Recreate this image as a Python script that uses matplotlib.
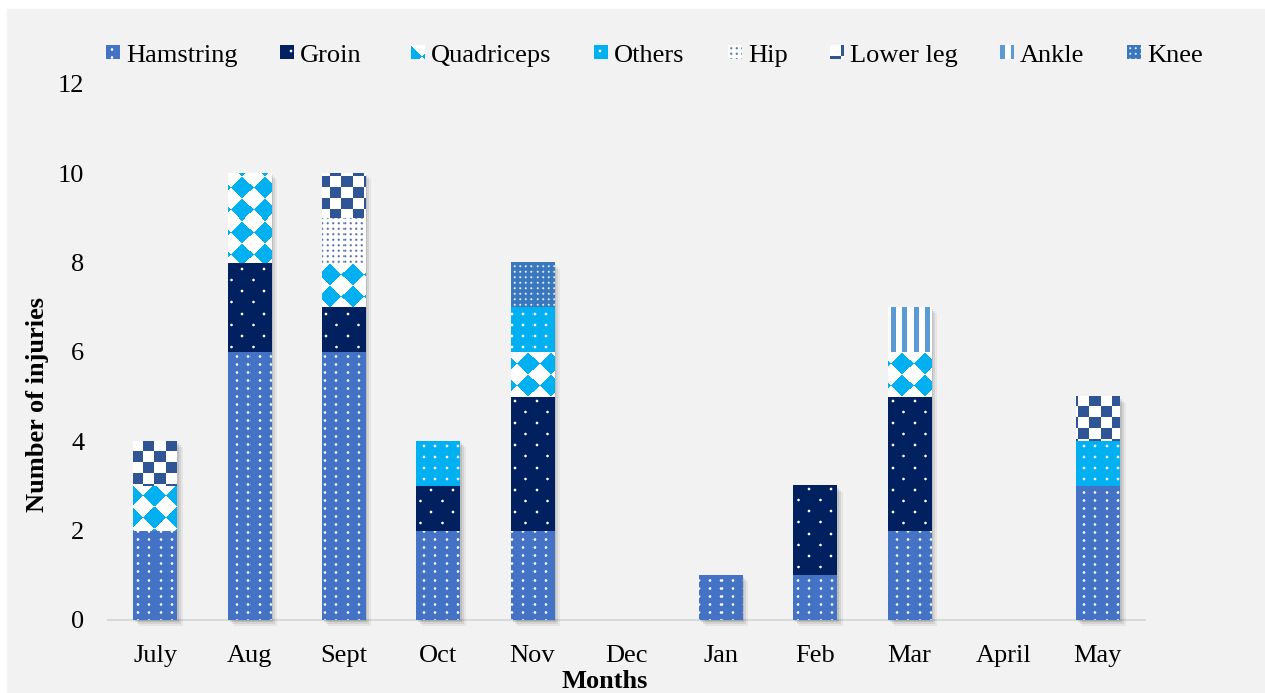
import numpy as np
import matplotlib.pyplot as plt
from matplotlib.patches import Rectangle

plt.rcParams['font.family'] = ['Liberation Serif', 'DejaVu Serif']

# data
months = ['July', 'Aug', 'Sept', 'Oct', 'Nov', 'Dec', 'Jan', 'Feb', 'Mar', 'April', 'May']
hamstring  = [2, 6, 6, 2, 2, 0, 1, 1, 2, 0, 3]
groin      = [0, 2, 1, 1, 3, 0, 0, 2, 3, 0, 0]
quadriceps = [1, 2, 1, 0, 1, 0, 0, 0, 1, 0, 0]
others     = [0, 0, 0, 1, 1, 0, 0, 0, 0, 0, 1]
hip        = [0, 0, 1, 0, 0, 0, 0, 0, 0, 0, 0]
lower_leg  = [1, 0, 1, 0, 0, 0, 0, 0, 0, 0, 1]
ankle      = [0, 0, 0, 0, 0, 0, 0, 0, 1, 0, 0]
knee       = [0, 0, 0, 0, 1, 0, 0, 0, 0, 0, 0]

names = ['Hamstring', 'Groin', 'Quadriceps', 'Others', 'Hip', 'Lower leg', 'Ankle', 'Knee']
series = [hamstring, groin, quadriceps, others, hip, lower_leg, ankle, knee]
base_colors = ['#4472C4', '#002060', '#00B0F0', '#00B0F0', '#2F5597', '#2F5597', '#5B9BD5', '#2E75B6']
legend_text_x = [126, 300, 431, 614, 748, 850, 1020, 1147]

W, H = 1265, 693


def rgb(c):
    c = c.lstrip('#')
    return np.array([int(c[i:i + 2], 16) for i in (0, 2, 4)]) / 255.


def dots(xx, yy, px, py, stagger=0.0, r=1.0):
    row = np.floor(yy / py)
    xs = xx + (row % 2) * stagger
    dx = (xs % px) - px / 2
    dy = (yy % py) - py / 2
    d = np.hypot(dx, dy)
    return np.clip(r + 0.5 - d, 0, 1)


def pattern(name, h, w, x0=0, y0=0):
    yy, xx = np.mgrid[0:h, 0:w].astype(float)
    xx += x0
    yy += y0
    if name == 'Hamstring':
        fg, bg = '#FFFFFF', '#4472C4'
        a = dots(xx, yy, 11, 8, 0, 1.3)
    elif name == 'Groin':
        fg, bg = '#FFFFFF', '#002060'
        a = dots(xx, yy, 21, 11, 10.5, 1.3)
    elif name == 'Quadriceps':
        fg, bg = '#00B0F0', '#FFFFFF'
        u, v = xx + yy, xx - yy
        a = ((np.floor(u / 22) + np.floor(v / 22)) % 2).astype(float)
    elif name == 'Others':
        fg, bg = '#FFFFFF', '#00B0F0'
        a = dots(xx, yy, 11, 11, 0, 1.3)
    elif name == 'Hip':
        fg, bg = '#2F5597', '#FFFFFF'
        a = dots(xx, yy, 5.5, 5.5, 0, 1.1) * 0.8
    elif name == 'Lower leg':
        fg, bg = '#2F5597', '#FFFFFF'
        a = ((np.floor(xx / 11) + np.floor(yy / 11)) % 2).astype(float)
    elif name == 'Ankle':
        fg, bg = '#5B9BD5', '#FFFFFF'
        a = ((xx % 11) < 5).astype(float)
    else:
        fg, bg = '#FFFFFF', '#3A78BE'
        a = dots(xx, yy, 5.5, 5.5, 0, 1.0) * 0.85
    a = a[..., None]
    return rgb(bg) * (1 - a) + rgb(fg) * a


fig = plt.figure(figsize=(W / 100, H / 100), dpi=100)
fig.add_artist(Rectangle((7 / W, 0), 1, (H - 9) / H, transform=fig.transFigure,
                         color='#F2F2F2', zorder=-10))

ax = fig.add_axes([108 / W, (H - 620) / H, (1145 - 108) / W, (620 - 84) / H])
ax.set_facecolor('none')
ax.set_xlim(-0.5, 10.5)
ax.set_ylim(0, 12)

x = np.arange(len(months))
bw = 0.46
px_x = (1145 - 108) / 11.0     # pixels per x unit
px_y = (620 - 84) / 12.0       # pixels per y unit

# drop shadows
totals = np.sum(series, axis=0)
for i, t in enumerate(totals):
    if t == 0:
        continue
    for off, al in [(6, 0.05), (4, 0.08), (2, 0.10)]:
        ax.add_patch(Rectangle((x[i] - bw / 2 + off / px_x, -off / px_y), bw, t,
                               color='black', alpha=al, lw=0, zorder=1, clip_on=False))

bottom = np.zeros(len(months))
for name, vals, col in zip(names, series, base_colors):
    vals = np.array(vals, dtype=float)
    bars = ax.bar(x, vals, bw, bottom=bottom, color=col, lw=0, zorder=2)
    for rect, v in zip(bars, vals):
        if v <= 0:
            continue
        x0, y0 = rect.get_x(), rect.get_y()
        x1, y1 = x0 + rect.get_width(), y0 + rect.get_height()
        (p0x, p0y), (p1x, p1y) = ax.transData.transform([(x0, y0), (x1, y1)])
        w = int(round(p1x - p0x))
        h = int(round(p1y - p0y))
        img = pattern(name, h, w, round(p0x), round(H - p1y))
        ax.imshow(img, extent=(x0, x1, y0, y1), aspect='auto',
                  interpolation='nearest', zorder=3)
    bottom += vals

ax.set_xlim(-0.5, 10.5)
ax.set_ylim(0, 12)

ax.set_xticks(x, months)
ax.set_yticks(range(0, 13, 2))
ax.tick_params(axis='both', length=0, labelsize=19)
ax.tick_params(axis='x', pad=18)
ax.tick_params(axis='y', pad=17)
for s in ['left', 'right', 'top']:
    ax.spines[s].set_visible(False)
ax.spines['bottom'].set_color('#D9D9D9')
ax.spines['bottom'].set_linewidth(1.5)
ax.spines['bottom'].set_zorder(0)

fig.text(605 / W, 1 - 681 / H, 'Months', ha='center', va='center',
         fontsize=19, fontweight='bold')
fig.text(38 / W, 1 - 405 / H, 'Number of injuries', ha='center', va='center',
         rotation=90, fontsize=19, fontweight='bold')

# legend drawn by hand
for name, tx in zip(names, legend_text_x):
    tile = pattern(name, 14, 14)
    fig.figimage(tile, xo=tx - 20, yo=H - 59, origin='upper', zorder=5)
    fig.text(tx / W, 1 - 62 / H, name, ha='left', va='baseline', fontsize=19)

fig.savefig('out.png', dpi=100)
